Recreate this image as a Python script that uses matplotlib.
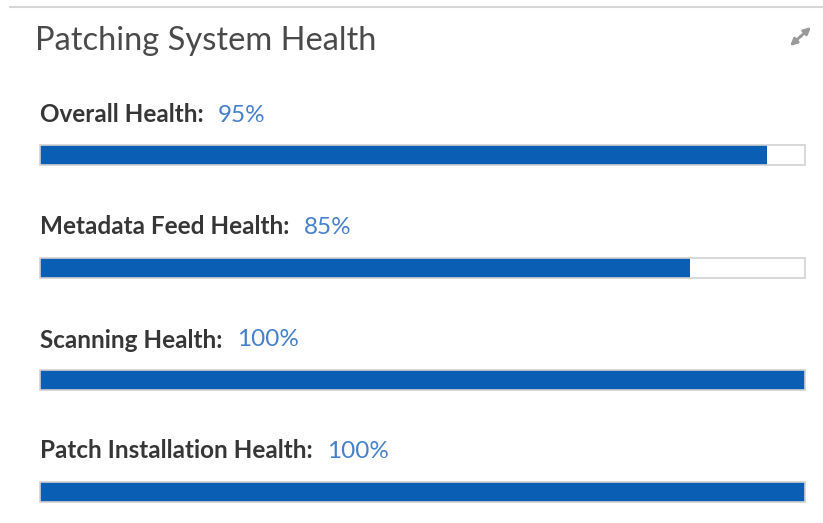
import matplotlib.pyplot as plt
from matplotlib.patches import Rectangle

# health panel values (percent)
names = ['Overall Health', 'Metadata Feed Health', 'Scanning Health', 'Patch Installation Health']
values = [95, 85, 100, 100]

W, H = 823, 523
bar_left, bar_width, bar_height = 40, 765, 20
bar_tops = [145, 258, 370, 482]
label_mid = [115, 227, 340, 451]

BLUE = '#0a5fb4'
VALUE_BLUE = '#4580cc'
TEXT = '#363636'
FONT = 'Lato'


def main():
    fig = plt.figure(figsize=(W / 100, H / 100), dpi=100)
    fig.patch.set_facecolor('white')

    # background axes in pixel coordinates for the card decorations
    bg = fig.add_axes([0, 0, 1, 1])
    bg.set_xlim(0, W)
    bg.set_ylim(H, 0)
    bg.axis('off')

    # thin card border at the top
    bg.plot([10, W], [7, 7], color='#d6d6d6', lw=1.5)

    bg.text(35, 41, 'Patching System Health', fontsize=23.5, color='#4a4a4a',
            family=FONT, va='center', ha='left')

    # expand icon in the corner
    for start, end in [((800, 37), (811, 27)), ((801, 36), (790, 46))]:
        bg.annotate('', xy=end, xytext=start,
                    arrowprops=dict(arrowstyle='-|>', color='#9a9a9a', lw=2,
                                    mutation_scale=10, shrinkA=0, shrinkB=0))

    for name, val, top, mid in zip(names, values, bar_tops, label_mid):
        ax = fig.add_axes([bar_left / W, 1 - (top + bar_height) / H, bar_width / W, bar_height / H])
        ax.set_xlim(0, 100)
        ax.set_ylim(-0.5, 0.5)
        ax.barh(0, val, height=1.0, color=BLUE, edgecolor='none', zorder=2)
        ax.add_patch(Rectangle((0, -0.5), 100, 1, fill=False, edgecolor='#d2d2d2', lw=1.2,
                               zorder=3, clip_on=False))
        ax.axis('off')

        lbl = bg.text(bar_left, mid, name + ':', fontsize=17.5, fontweight='bold',
                      color=TEXT, family=FONT, va='center', ha='left')
        bg.annotate('%d%%' % val, xy=(1, 0.5), xycoords=lbl, xytext=(10.5, 0),
                    textcoords='offset points', va='center', ha='left',
                    fontsize=17.5, color=VALUE_BLUE, family=FONT)

    fig.savefig('out.png', dpi=100, facecolor='white')
    plt.close()


if __name__ == '__main__':
    main()
